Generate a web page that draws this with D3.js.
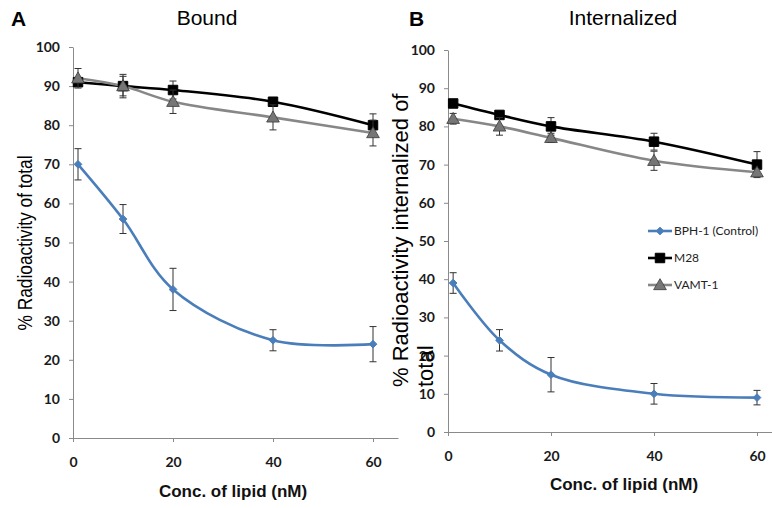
<!DOCTYPE html>
<html>
<head>
<meta charset="utf-8">
<script src="https://cdn.jsdelivr.net/npm/d3@7"></script>
<style>
  body { margin: 0; background: #fff; }
  svg { display: block; }
</style>
</head>
<body>
<div id="chart"></div>
<script>
// concentrations (nM) on the x axis
const conc = [1, 10, 20, 40, 60];
const seriesNames = ["BPH-1 (Control)", "M28", "VAMT-1"];
const xTicks = [0, 20, 40, 60];
const yTicks = [0, 10, 20, 30, 40, 50, 60, 70, 80, 90, 100];

// panel A - bound
const boundBPH = [70, 56, 38, 25, 24];
const boundBPHErr = [4, 3.7, 5.4, 2.7, 4.5];
const boundM28 = [91, 90, 89, 86, 80];
const boundM28Err = [0.8, 2.5, 2.3, 1, 2.9];
const boundVAMT = [92, 90, 86, 82, 78];
const boundVAMTErr = [2.5, 3, 3, 3.2, 3.3];

// panel B - internalized
const intBPH = [39, 24, 15, 10, 9];
const intBPHErr = [2.7, 2.8, 4.5, 2.7, 1.9];
const intM28 = [86, 83, 80, 76, 70];
const intM28Err = [0.6, 0.7, 2.3, 2.2, 3.4];
const intVAMT = [82, 80, 77, 71, 68];
const intVAMTErr = [1.4, 2.3, 1.2, 2.5, 0.8];

const W = 772, H = 508;
const colors = ["#4a7ebb", "#000000", "#878787"];

const svg = d3.select("#chart").append("svg")
    .attr("width", W)
    .attr("height", H);

function markerPath(i) {
    if (i === 0) return d3.symbol().type(d3.symbolDiamond2).size(38)();
    if (i === 1) return d3.symbol().type(d3.symbolSquare).size(90)();
    return d3.symbol().type(d3.symbolTriangle).size(70)();
}

function drawMarker(g, i, x, y) {
    g.append("path")
        .attr("d", markerPath(i))
        .attr("transform", `translate(${x},${y + (i === 2 ? 1 : 0)})`)
        .attr("fill", i === 2 ? "#767676" : colors[i])
        .attr("stroke", i === 2 ? "#3a3a3a" : colors[i])
        .attr("stroke-width", i === 2 ? 0.8 : 1);
}

function drawPanel(p) {
    const g = svg.append("g");
    const x = d3.scaleLinear().domain([0, 65]).range(p.xRange);
    const y = d3.scaleLinear().domain([0, 100]).range(p.yRange);

    // axes
    const yAxis = g.append("g")
        .attr("transform", `translate(${p.xRange[0]},0)`)
        .call(d3.axisLeft(y).tickValues(yTicks).tickSize(4).tickSizeOuter(0).tickPadding(9));
    const xAxis = g.append("g")
        .attr("transform", `translate(0,${p.yRange[0]})`)
        .call(d3.axisBottom(x).tickValues(xTicks).tickSize(4).tickSizeOuter(0).tickPadding(15));
    [yAxis, xAxis].forEach(a => {
        a.selectAll("path, line").attr("stroke", "#8a8a8a");
        a.selectAll("text")
            .attr("fill", "#1a1a1a")
            .style("font-family", "Lato, sans-serif")
            .style("font-weight", "bold")
            .style("font-size", "14px");
    });

    const line = d3.line()
        .x((d, i) => x(conc[i]))
        .y(d => y(d))
        .curve(d3.curveCatmullRom.alpha(0.5));

    p.series.forEach((s, si) => {
        g.append("path")
            .datum(s.values)
            .attr("d", line)
            .attr("fill", "none")
            .attr("stroke", colors[si])
            .attr("stroke-width", 2.6);
    });

    p.series.forEach((s, si) => {
        s.values.forEach((v, i) => {
            const cx = x(conc[i]);
            const top = y(v + s.err[i]), bot = y(v - s.err[i]);
            g.append("line")
                .attr("x1", cx).attr("x2", cx).attr("y1", top).attr("y2", bot)
                .attr("stroke", "#333").attr("stroke-width", 1);
            [top, bot].forEach(yy => g.append("line")
                .attr("x1", cx - 3.5).attr("x2", cx + 3.5).attr("y1", yy).attr("y2", yy)
                .attr("stroke", "#333").attr("stroke-width", 1));
            drawMarker(g, si, cx, y(v));
        });
    });

    // titles
    g.append("text")
        .attr("x", p.letterX).attr("y", 26)
        .style("font-family", "Liberation Sans, Arial, sans-serif")
        .style("font-weight", "bold")
        .style("font-size", "21px")
        .text(p.letter);
    g.append("text")
        .attr("x", p.titleX).attr("y", 25)
        .attr("text-anchor", "middle")
        .style("font-family", "Liberation Sans, Arial, sans-serif")
        .style("font-size", "21px")
        .text(p.title);
    g.append("text")
        .attr("x", p.xTitleX).attr("y", p.xTitleY)
        .attr("text-anchor", "middle")
        .style("font-family", "Liberation Sans, Arial, sans-serif")
        .style("font-weight", "bold")
        .style("font-size", "17px")
        .attr("fill", "#111")
        .text("Conc. of lipid (nM)");
    return { g, x, y };
}

const pA = drawPanel({
    letter: "A", letterX: 11, title: "Bound", titleX: 207,
    xRange: [73, 398], yRange: [438, 47],
    xTitleX: 233, xTitleY: 497,
    series: [
        { values: boundBPH, err: boundBPHErr },
        { values: boundM28, err: boundM28Err },
        { values: boundVAMT, err: boundVAMTErr }
    ]
});

const pB = drawPanel({
    letter: "B", letterX: 409, title: "Internalized", titleX: 623,
    xRange: [448, 448 + 65 * 5.15], yRange: [432, 50],
    xTitleX: 624, xTitleY: 490,
    series: [
        { values: intBPH, err: intBPHErr },
        { values: intM28, err: intM28Err },
        { values: intVAMT, err: intVAMTErr }
    ]
});

// y axis titles
svg.append("text")
    .attr("transform", "translate(32,243) rotate(-90)")
    .attr("text-anchor", "middle")
    .attr("textLength", 175)
    .attr("lengthAdjust", "spacingAndGlyphs")
    .style("font-family", "Liberation Sans, Arial, sans-serif")
    .style("font-size", "20px")
    .text("% Radioactivity of total");

const yTitleB = svg.append("text")
    .attr("transform", "translate(0,387) rotate(-90)")
    .style("font-family", "Liberation Sans, Arial, sans-serif")
    .style("font-size", "22px");
yTitleB.append("tspan").attr("x", 0).attr("y", 408).text("% Radioactivity internalized of");
yTitleB.append("tspan").attr("x", 0).attr("y", 433).text("total");

// legend (panel B)
const legend = svg.append("g").attr("transform", "translate(648,231)");
seriesNames.forEach((name, i) => {
    const row = legend.append("g").attr("transform", `translate(0,${i * 27})`);
    row.append("line")
        .attr("x1", 0).attr("x2", 24).attr("y1", 0).attr("y2", 0)
        .attr("stroke", colors[i]).attr("stroke-width", 2.6);
    drawMarker(row, i, 12, 0);
    row.append("text")
        .attr("x", 26).attr("y", 0).attr("dy", "0.35em")
        .style("font-family", "Lato, sans-serif")
        .style("font-size", "12px")
        .attr("fill", "#222")
        .text(name);
});
</script>
</body>
</html>
